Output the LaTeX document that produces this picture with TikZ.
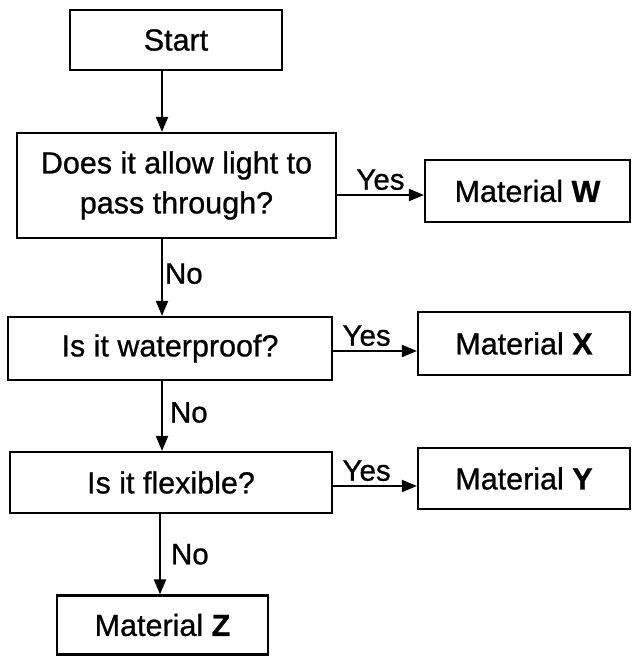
\documentclass[tikz,border=0pt]{standalone}
\usepackage{fontspec}
\setmainfont{Liberation Sans}[FakeBold=0.8]
\usetikzlibrary{arrows.meta}
\begin{document}
\begin{tikzpicture}[x=1pt,y=-1pt,
  box/.style={draw, line width=2.2pt, inner sep=0pt, align=center,
    font=\fontsize{30.5}{40}\selectfont},
  arr/.style={line width=2pt, -{Triangle[length=15pt,width=12pt]}},
  lbl/.style={font=\fontsize{29.5}{34}\selectfont, inner sep=4pt}]
\useasboundingbox (0,0) rectangle (632,656);
% boxes
\node[box, minimum width=212pt, minimum height=60pt] (start) at (176,40) {Start};
\node[box, minimum width=319pt, minimum height=105pt] (q1) at (176.5,185.5) {Does it allow light to\\pass through?};
\node[box, minimum width=205pt, minimum height=62pt] (W) at (527.5,191) {Material \textbf{W}};
\node[box, minimum width=324pt, minimum height=63pt] (q2) at (170,348.5) {Is it waterproof?};
\node[box, minimum width=212pt, minimum height=63pt] (X) at (524,343.5) {Material \textbf{X}};
\node[box, minimum width=322pt, minimum height=61pt] (q3) at (171,482.5) {Is it flexible?};
\node[box, minimum width=212pt, minimum height=61pt] (Y) at (524,478.5) {Material \textbf{Y}};
\node[box, minimum width=211pt, minimum height=59pt] (Z) at (162.5,625) {Material \textbf{Z}};
% axes for connectors
\coordinate (ax) at (162,0);
\coordinate (az) at (160,0);
\coordinate (yw) at (0,195);
\coordinate (yx) at (0,351);
\coordinate (yy) at (0,486);
% connectors
\draw[arr] (start.south -| ax) -- (q1.north -| ax);
\draw[arr] (q1.south -| ax) -- node[lbl, right, pos=0.45, xshift=-2pt] {No} (q2.north -| ax);
\draw[arr] (q2.south -| ax) -- node[lbl, right, pos=0.45, xshift=3pt] {No} (q3.north -| ax);
\draw[arr] (q3.south -| az) -- node[lbl, right, pos=0.5, xshift=6pt] {No} (Z.north -| az);
\draw[arr] (q1.east |- yw) -- node[lbl, above, pos=0.5] {Yes} (W.west |- yw);
\draw[arr] (q2.east |- yx) -- node[lbl, above, pos=0.4] {Yes} (X.west |- yx);
\draw[arr] (q3.east |- yy) -- node[lbl, above, pos=0.4] {Yes} (Y.west |- yy);
\end{tikzpicture}
\end{document}
